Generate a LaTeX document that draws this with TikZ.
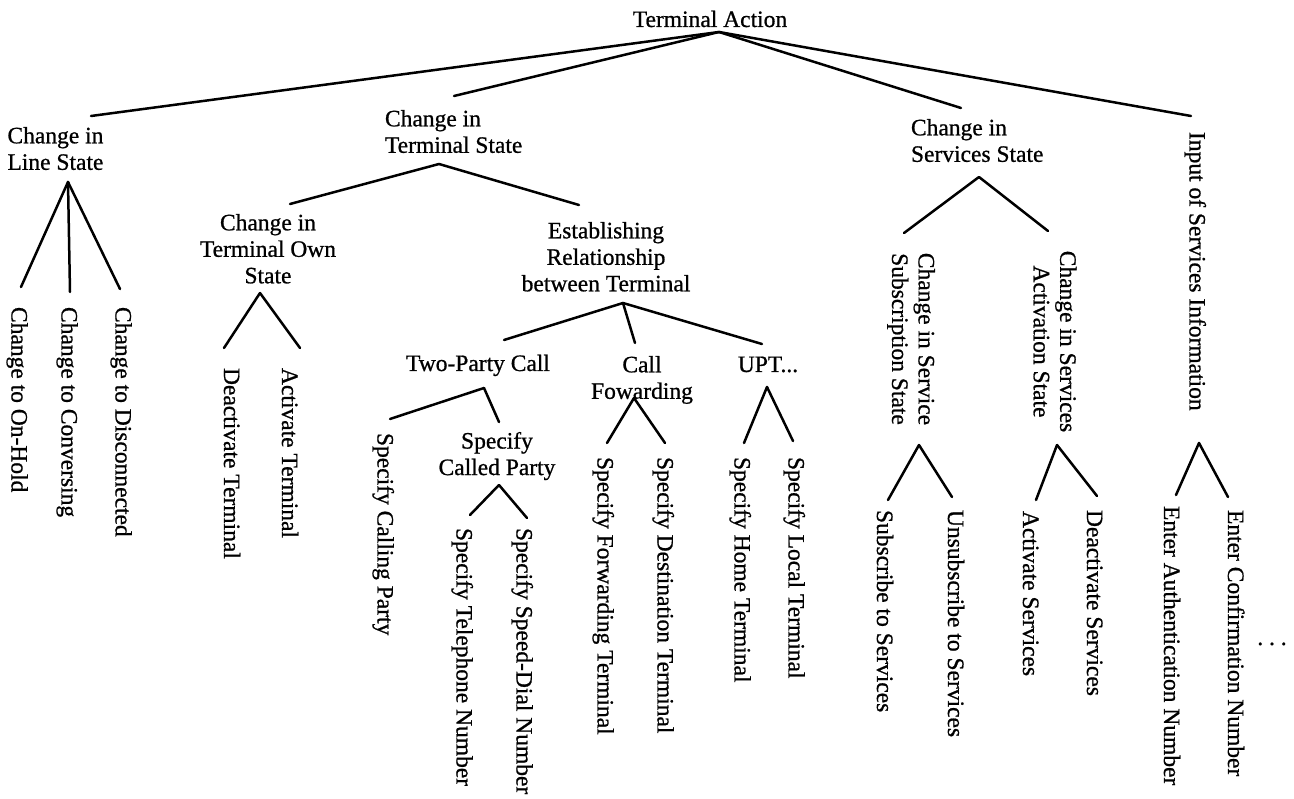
\documentclass[tikz,border=0pt]{standalone}
\usepackage{fontspec}
\setmainfont{Liberation Serif}[FakeBold=0.8]
\tikzset{
  lbl/.style={inner sep=0pt, outer sep=0pt, font=\fontsize{23.5}{26.5}\selectfont},
  leaf/.style={lbl, rotate=-90, anchor=west, text height=16pt, text depth=5pt},
  link/.style={line width=2.5pt, line cap=round, line join=round},
}
\begin{document}
\begin{tikzpicture}[x=1pt, y=-1pt]
\fill[white] (0,0) rectangle (1294,799);
\path[use as bounding box] (0,0) rectangle (1294,799);

% ---- text nodes ----
\node[lbl, anchor=base] (root) at (710,27) {Terminal Action};
\node[lbl, align=left, anchor=north west] (ls) at (7.5,127) {Change in\\Line State};
\node[lbl, align=left, anchor=north west] (ts) at (385,110) {Change in\\Terminal State};
\node[lbl, align=left, anchor=north west] (ss) at (911,119) {Change in\\Services State};
\node[leaf] (inp) at (1195,132) {Input of Services Information};

\node[leaf] (oh) at (17,307) {Change to On-Hold};
\node[leaf] (cv) at (67,307) {Change to Conversing};
\node[leaf] (dc) at (121,307) {Change to Disconnected};

\node[lbl, align=center, anchor=north] (os) at (268,214) {Change in\\Terminal Own\\State};
\node[leaf] (dt) at (229.5,368) {Deactivate Terminal};
\node[leaf] (at) at (287.5,368) {Activate Terminal};

\node[lbl, align=center, anchor=north] (er) at (606,222) {Establishing\\Relationship\\between Terminal};
\node[lbl, anchor=base] (tp) at (478,371) {Two-Party Call};
\node[lbl, align=center, anchor=north] (cf) at (642,356) {Call\\Fowarding};
\node[lbl, anchor=base] (upt) at (768,372) {UPT...};

\node[leaf] (scp) at (383,433) {Specify Calling Party};
\node[lbl, align=center, anchor=north] (cp) at (497,432) {Specify\\Called Party};
\node[leaf] (tel) at (462,528) {Specify Telephone Number};
\node[leaf] (sd) at (522,528) {Specify Speed-Dial Number};

\node[leaf] (fw) at (603,457) {Specify Forwarding Terminal};
\node[leaf] (dst) at (663,457) {Specify Destination Terminal};
\node[leaf] (hm) at (740,457) {Specify Home Terminal};
\node[leaf] (lc) at (794,457) {Specify Local Terminal};

\node[lbl, rotate=-90, align=center] (sub) at (911,339) {Change in Service\\Subscription State};
\node[lbl, rotate=-90, align=center] (act) at (1055,341.5) {Change in Services\\Activation State};
\node[leaf] (sb) at (882.5,510) {Subscribe to Services};
\node[leaf] (us) at (953.5,510) {Unsubscribe to Services};
\node[leaf] (as) at (1028.5,511) {Activate Services};
\node[leaf] (ds) at (1092.5,510) {Deactivate Services};

\node[leaf] (au) at (1169.5,506) {Enter Authentication Number};
\node[leaf] (cn) at (1233.5,510) {Enter Confirmation Number};
\node[lbl, anchor=base] (more) at (1272,645) {.\ .\ .};

% ---- junction and attachment points ----
\coordinate (root-j) at (719,32);
\coordinate (ls-t) at (91,116);   \coordinate (ts-t) at (454,96);
\coordinate (ss-t) at (961,108);  \coordinate (inp-t) at (1191,116);
\coordinate (ls-j) at (68,182);
\coordinate (oh-t) at (21,287);   \coordinate (cv-t) at (70,292);  \coordinate (dc-t) at (120,289);
\coordinate (ts-j) at (439,164);
\coordinate (os-t) at (290,204);  \coordinate (er-t) at (579,205);
\coordinate (os-j) at (260,293);
\coordinate (dt-t) at (224,348);  \coordinate (at-t) at (300,348);
\coordinate (er-j) at (623,303);
\coordinate (tp-t) at (504,340);  \coordinate (cf-t) at (635,343); \coordinate (upt-t) at (762,344);
\coordinate (tp-j) at (484,388);
\coordinate (scp-t) at (390,419); \coordinate (cp-t) at (499,422);
\coordinate (cp-j) at (499,485);
\coordinate (tel-t) at (470,515); \coordinate (sd-t) at (527,518);
\coordinate (cf-j) at (634,398);
\coordinate (fw-t) at (607,443);  \coordinate (dst-t) at (665,443);
\coordinate (upt-j) at (767,387);
\coordinate (hm-t) at (744,443);  \coordinate (lc-t) at (793,441);
\coordinate (ss-j) at (979,177);
\coordinate (sub-t) at (904,233); \coordinate (act-t) at (1048,231);
\coordinate (sub-j) at (919,445);
\coordinate (sb-t) at (888,500);  \coordinate (us-t) at (952,497);
\coordinate (act-j) at (1057,445);
\coordinate (as-t) at (1036,500); \coordinate (ds-t) at (1097,496);
\coordinate (inp-j) at (1199,443);
\coordinate (au-t) at (1176,495); \coordinate (cn-t) at (1228,497);

% ---- connectors ----
\draw[link] (root-j) -- (ls-t);  \draw[link] (root-j) -- (ts-t);
\draw[link] (root-j) -- (ss-t);  \draw[link] (root-j) -- (inp-t);
\draw[link] (ls-j) -- (oh-t); \draw[link] (ls-j) -- (cv-t); \draw[link] (ls-j) -- (dc-t);
\draw[link] (ts-j) -- (os-t); \draw[link] (ts-j) -- (er-t);
\draw[link] (os-j) -- (dt-t); \draw[link] (os-j) -- (at-t);
\draw[link] (er-j) -- (tp-t); \draw[link] (er-j) -- (cf-t); \draw[link] (er-j) -- (upt-t);
\draw[link] (tp-j) -- (scp-t); \draw[link] (tp-j) -- (cp-t);
\draw[link] (cp-j) -- (tel-t); \draw[link] (cp-j) -- (sd-t);
\draw[link] (cf-j) -- (fw-t); \draw[link] (cf-j) -- (dst-t);
\draw[link] (upt-j) -- (hm-t); \draw[link] (upt-j) -- (lc-t);
\draw[link] (ss-j) -- (sub-t); \draw[link] (ss-j) -- (act-t);
\draw[link] (sub-j) -- (sb-t); \draw[link] (sub-j) -- (us-t);
\draw[link] (act-j) -- (as-t); \draw[link] (act-j) -- (ds-t);
\draw[link] (inp-j) -- (au-t); \draw[link] (inp-j) -- (cn-t);
\end{tikzpicture}
\end{document}
